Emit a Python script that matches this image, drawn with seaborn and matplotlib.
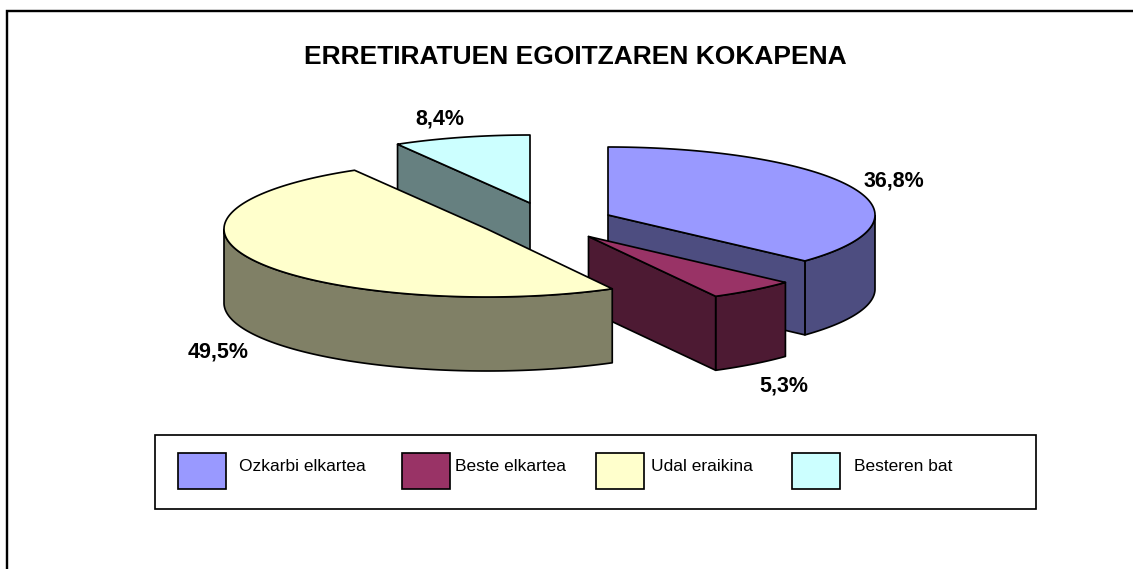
import numpy as np
import seaborn as sns
import matplotlib
matplotlib.use("Agg")
import matplotlib.pyplot as plt
from matplotlib.patches import Polygon, Rectangle

categories = ["Ozkarbi elkartea", "Beste elkartea", "Udal eraikina", "Besteren bat"]
values = [36.8, 5.3, 49.5, 8.4]
title = "ERRETIRATUEN EGOITZAREN KOKAPENA"
top_colors = ["#9999FF", "#993366", "#FFFFCC", "#CCFFFF"]

# layout (pixels of the 1133x569 canvas)
apex_x = [608, 588.5, 487, 530]
apex_y = [215, 236.5, 229, 203]
radius_x = [267, 267, 263, 263]
RADIUS_Y = 68
DEPTH = 74
label_pos = [(894, 186), (784, 391), (218, 357), (439.5, 124)]
swatch_x = [178, 402, 596, 792]
legend_text_x = [239, 455, 651, 854]
draw_order = [3, 0, 1, 2]

sns.set_theme(style="white")
plt.rcParams["font.family"] = ["Liberation Sans", "DejaVu Sans"]
palette = sns.color_palette(top_colors)
side_colors = [tuple(c * 0.5 for c in col) for col in palette]

fig = plt.figure(figsize=(11.33, 5.69), dpi=100, facecolor="white")
ax = fig.add_axes([0, 0, 1, 1])
ax.set_xlim(0, 1133)
ax.set_ylim(569, 0)
ax.axis("off")
PX = 0.72
EDGE = 1.7 * PX

# outer frame: only its left and top edges fall inside the canvas
ax.plot([7, 7, 1133], [569, 11, 11], color="black", lw=2.4 * PX,
        solid_joinstyle="miter", zorder=1)

cum = np.concatenate([[0], np.cumsum(values)]) / sum(values) * 2 * np.pi


def rim(i, t):
    return np.column_stack([apex_x[i] + radius_x[i] * np.sin(t),
                            apex_y[i] - RADIUS_Y * np.cos(t)])


def wall(pts, color):
    low = pts[::-1] + np.array([0, DEPTH])
    ax.add_patch(Polygon(np.vstack([pts, low]), closed=True, facecolor=color,
                         edgecolor="black", lw=EDGE, joinstyle="round", zorder=z))


z = 2
for i in draw_order:
    t0, t1 = cum[i], cum[i + 1]
    ts = np.linspace(t0, t1, 200)
    arc = rim(i, ts)
    apex = np.array([[apex_x[i], apex_y[i]]])
    # a wall shows where the clockwise outline of the top runs leftwards
    if arc[0, 0] < apex[0, 0]:
        wall(np.vstack([apex, arc[:1]]), side_colors[i])
    visible = np.cos(ts) < 0
    if visible.any():
        wall(arc[visible], side_colors[i])
    if apex[0, 0] < arc[-1, 0]:
        wall(np.vstack([arc[-1:], apex]), side_colors[i])
    ax.add_patch(Polygon(np.vstack([apex, arc]), closed=True, facecolor=palette[i],
                         edgecolor="black", lw=EDGE, joinstyle="round", zorder=z + 0.5))
    z += 1

for v, (x, y) in zip(values, label_pos):
    ax.text(x, y, f"{v:.1f}%".replace(".", ","), ha="center", va="baseline",
            fontsize=15.5, fontweight="bold", color="black", zorder=20)

ax.text(575, 64, title, ha="center", va="baseline", fontsize=19, fontweight="bold",
        color="black", zorder=20)

# legend box
ax.add_patch(Rectangle((155, 435), 881, 74, facecolor="white", edgecolor="black",
                       lw=EDGE, zorder=10))
for i, cat in enumerate(categories):
    ax.add_patch(Rectangle((swatch_x[i], 453), 48, 36, facecolor=palette[i],
                           edgecolor="black", lw=EDGE, zorder=11))
    ax.text(legend_text_x[i], 470.5, cat, ha="left", va="baseline", fontsize=12.55,
            color="black", zorder=12)

fig.savefig("out.png", dpi=100, facecolor="white")
